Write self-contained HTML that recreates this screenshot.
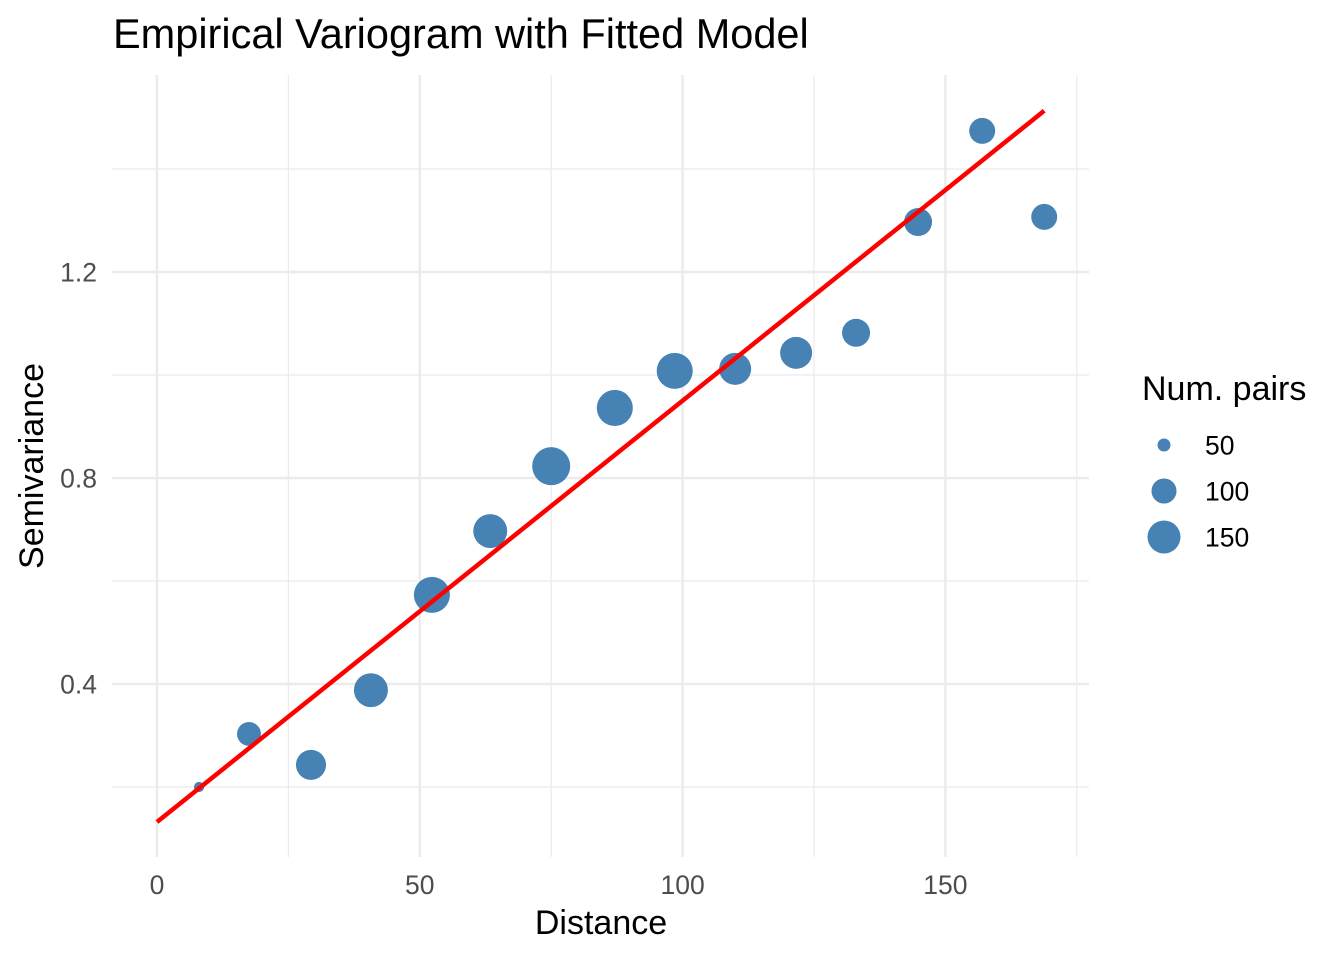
<!DOCTYPE html>
<html><head><meta charset="utf-8"><style>
body{margin:0;background:#fff;}
svg{display:block;font-family:"Liberation Sans",sans-serif;}
</style></head><body>
<svg id="chart" width="1344" height="960">
<text x="113" y="48" font-size="41.5" fill="#000">Empirical Variogram with Fitted Model</text>
<g id="grid"></g>
<g id="marks"></g>
<g id="axes"></g>
<text x="601" y="934" font-size="34" text-anchor="middle">Distance</text>
<text transform="translate(43,466) rotate(-90)" font-size="34" text-anchor="middle">Semivariance</text>
<g id="legend">
<text x="1142" y="400" font-size="34">Num. pairs</text>
</g>
</svg>
<script>
const distances=[8.0,17.5,29.3,40.7,52.3,63.4,75.0,87.1,98.5,110.0,121.6,133.0,144.8,157.0,168.8];
const gammas=[0.200,0.303,0.243,0.388,0.573,0.697,0.823,0.936,1.008,1.012,1.043,1.082,1.297,1.474,1.307];
const pairs=[43,94,130,157,173,157,189,173,173,143,143,117,117,105,105];
const modelX=[0,168.8];
const modelY=[0.132,1.513];
const xTicks=[0,50,100,150];
const xMinor=[25,75,125,175];
const yTicks=[0.4,0.8,1.2];
const yMinor=[0.2,0.6,1.0,1.4];
const legendVals=[50,100,150];
const NS="http://www.w3.org/2000/svg";
const X=v=>157+v*5.256;
const Y=v=>890-v*515;
const R=n=>Math.sqrt(Math.max(16,-73+2.3*n));
function mk(t,a,p){const e=document.createElementNS(NS,t);for(const k in a)e.setAttribute(k,a[k]);p.appendChild(e);return e;}
const grid=document.getElementById('grid'),marks=document.getElementById('marks'),axes=document.getElementById('axes'),legend=document.getElementById('legend');
xMinor.forEach(v=>{const l=mk('line',{x1:X(v),x2:X(v),y1:75,y2:857,stroke:'#ebebeb','stroke-width':1.2},grid);

});
yMinor.forEach(v=>{const l=mk('line',{x1:112,x2:1089,y1:Y(v),y2:Y(v),stroke:'#ebebeb','stroke-width':1.2},grid);

});
xTicks.forEach(v=>{const l=mk('line',{x1:X(v),x2:X(v),y1:75,y2:857,stroke:'#ebebeb','stroke-width':2.4},grid);


const t=mk('text',{x:X(v),y:894,'font-size':26.5,fill:'#4d4d4d','text-anchor':'middle'},axes);t.textContent=v;

});
yTicks.forEach(v=>{const l=mk('line',{x1:112,x2:1089,y1:Y(v),y2:Y(v),stroke:'#ebebeb','stroke-width':2.4},grid);


const t=mk('text',{x:97,y:Y(v)+9.5,'font-size':26.5,fill:'#4d4d4d','text-anchor':'end'},axes);t.textContent=v.toFixed(1);

});
distances.forEach((d,i)=>{const c=mk('circle',{cx:X(d),cy:Y(gammas[i]),r:R(pairs[i]),fill:'#4682b4'},marks);

});
const ln=mk('line',{x1:X(modelX[0]),y1:Y(modelY[0]),x2:X(modelX[1]),y2:Y(modelY[1]),stroke:'#ff0000','stroke-width':4.5},marks);


legendVals.forEach((v,i)=>{const y=445+i*46;
const c=mk('circle',{cx:1164,cy:y,r:R(v),fill:'#4682b4'},legend);


const t=mk('text',{x:1205,y:y+9.5,'font-size':26.5,fill:'#000'},legend);t.textContent=v;

});
</script>
</body></html>
